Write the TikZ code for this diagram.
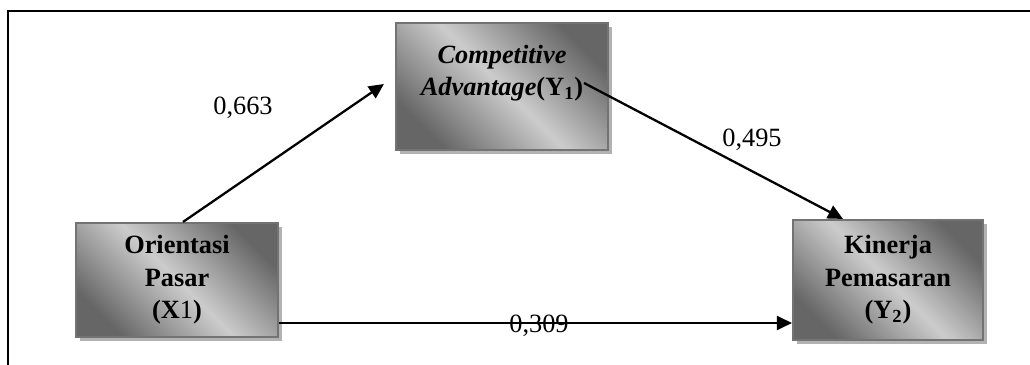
\documentclass[tikz,border=0pt]{standalone}
\usepackage{fontspec}
\setmainfont{Liberation Serif}
\usetikzlibrary{arrows.meta,positioning,shadows}

\colorlet{boxdark}{black!60}
\colorlet{boxlight}{black!20}
\pgfdeclarehorizontalshading{boxshade}{100bp}{color(0bp)=(boxdark); color(25bp)=(boxdark); color(50bp)=(boxlight); color(75bp)=(boxdark); color(100bp)=(boxdark)}

\begin{document}
\begin{tikzpicture}[
  font=\fontsize{15}{19}\selectfont,
  var/.style={draw=black!55, line width=1.2pt, shading=boxshade, shading angle=45, general shadow={fill=black!30, shadow xshift=0.08cm, shadow yshift=-0.08cm}, align=center, font=\fontsize{15}{18.5}\selectfont\bfseries, inner sep=0pt},
  arr/.style={-{Triangle[length=0.3cm,width=0.28cm]}, line width=1.3pt},
  coef/.style={inner sep=0pt}
]
\useasboundingbox (0,0) rectangle (20.6,7.3);
% frame
\draw[line width=1.2pt] (20.7,7.08) -- (0.16,7.08) -- (0.16,-0.1);

\node[var, minimum width=4.24cm, minimum height=2.54cm] (cadv) at (10.04,5.57) {\textit{Competitive}\\\textit{Advantage}(Y\textsubscript{1})\\\mbox{}};
\node[var, minimum width=4.04cm, minimum height=2.28cm] (orp) at (3.54,1.70) {Orientasi\\Pasar\\(X{\mdseries 1})};
\node[var, minimum width=3.8cm, minimum height=2.4cm] (kp) at (17.76,1.70) {Kinerja\\Pemasaran\\(Y\textsubscript{2})};

\draw[arr] ([xshift=0.12cm]orp.north) -- ([xshift=-0.22cm,yshift=0.05cm]cadv.west);
\draw[arr] ([xshift=-0.5cm,yshift=0.07cm]cadv.east) -- ([xshift=-0.9cm]kp.north);
\draw[arr] ([yshift=-0.86cm]orp.east) -- ([yshift=-0.86cm]kp.west);

\node[coef] (b1) at (4.86,5.14) {0,663};
\node[coef] (b2) at (15.04,4.50) {0,495};
\node[coef] (b3) at (10.78,0.78) {0,309};
\end{tikzpicture}
\end{document}
